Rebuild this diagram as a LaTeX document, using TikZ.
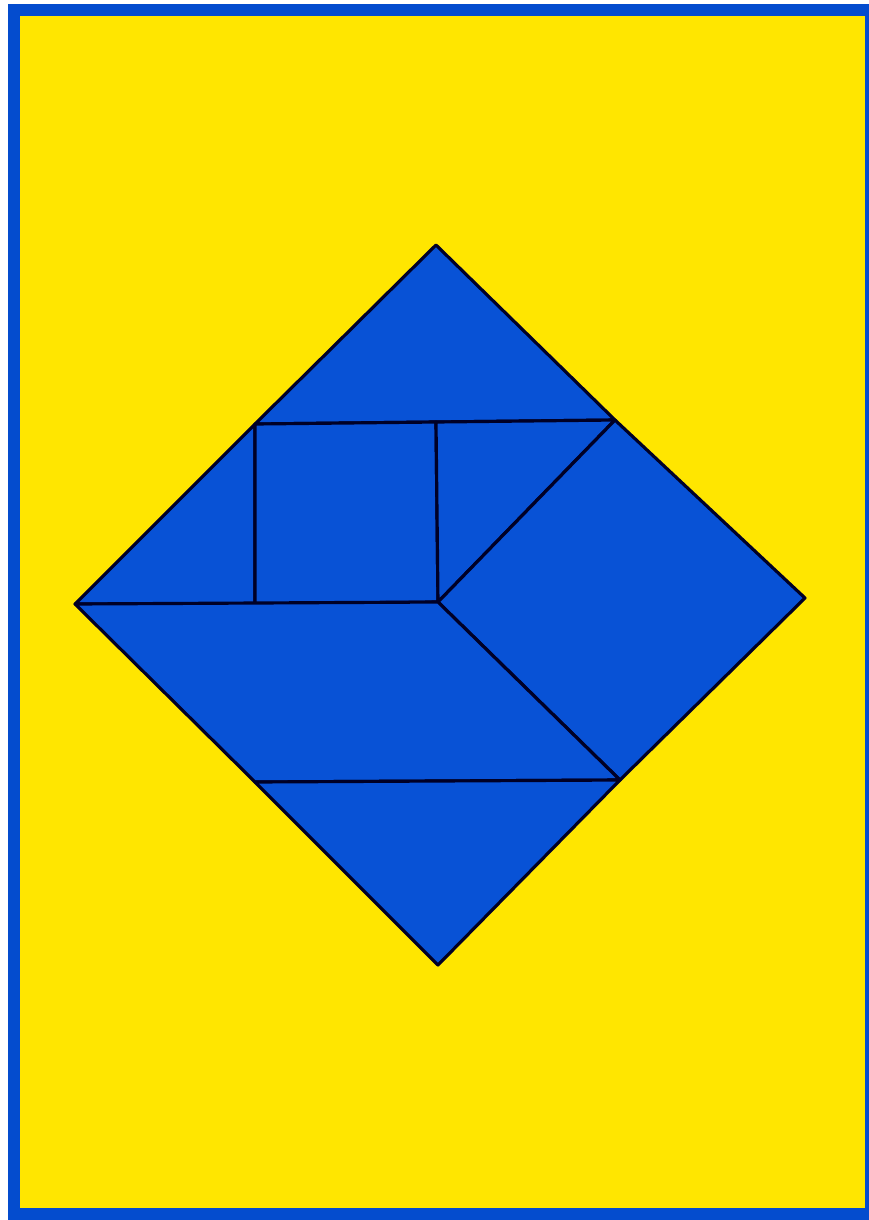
\documentclass[tikz,border=0pt]{standalone}
\usepackage{xcolor}
\usepackage{tikz}
\definecolor{tanblue}{RGB}{8,82,214}
\definecolor{frameblue}{RGB}{4,76,206}
\definecolor{cardyellow}{RGB}{255,230,0}
\tikzset{piece/.style={fill=tanblue, draw=black!85!blue, line width=0.9pt, line join=round}}

\begin{document}
\begin{tikzpicture}[x=0.01cm, y=-0.01cm]
    % 1. Nền và khung
    \useasboundingbox (0,0) rectangle (869,1220);
    \fill[white] (0,0) rectangle (869,1220);
    \fill[frameblue] (8,4) rectangle (869,1220);
    \fill[cardyellow] (20,16) rectangle (865,1208);

    % 2. Các đỉnh
    \coordinate (T) at (436,245);
    \coordinate (L) at (75,604);
    \coordinate (R) at (805,598);
    \coordinate (B) at (438,965);
    \coordinate (P1) at (255,424);
    \coordinate (P2) at (436,422);
    \coordinate (P3) at (615,420);
    \coordinate (C) at (438,602);
    \coordinate (P4) at (255,604);
    \coordinate (Q1) at (255,782);
    \coordinate (Q2) at (620,780);

    % 3. Các mảnh ghép
    \draw[piece] (T) -- (P1) -- (P3) -- cycle;
    \draw[piece] (L) -- (P1) -- (P4) -- cycle;
    \draw[piece] (P1) -- (P2) -- (C) -- (P4) -- cycle;
    \draw[piece] (P2) -- (P3) -- (C) -- cycle;
    \draw[piece] (P3) -- (R) -- (Q2) -- (C) -- cycle;
    \draw[piece] (L) -- (C) -- (Q2) -- (Q1) -- cycle;
    \draw[piece] (Q1) -- (Q2) -- (B) -- cycle;
\end{tikzpicture}
\end{document}
